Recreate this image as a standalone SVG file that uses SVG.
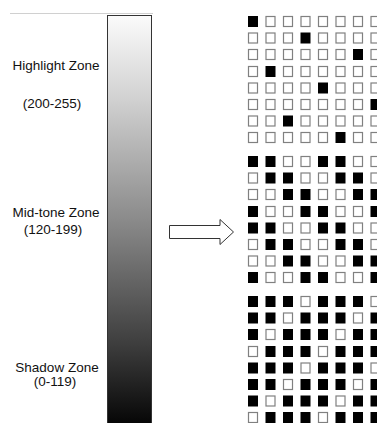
<svg xmlns="http://www.w3.org/2000/svg" width="377" height="423" viewBox="0 0 377 423">
<defs>
<linearGradient id="g" x1="0" y1="0" x2="0" y2="1">
<stop offset="0" stop-color="#fbfbfb"/>
<stop offset="0.2" stop-color="#d2d2d2"/>
<stop offset="0.5" stop-color="#8a8a8a"/>
<stop offset="0.8" stop-color="#3e3e3e"/>
<stop offset="1" stop-color="#050505"/>
</linearGradient>
<rect id="w" x="0.5" y="0.5" width="9" height="10" fill="#fff" stroke="#808080" stroke-width="1.2"/>
<rect id="b" width="10" height="11" fill="#000"/>
</defs>
<style>
text{font-family:"Liberation Sans",Arial,sans-serif;font-size:13.5px;fill:#111;text-anchor:middle}
</style>
<rect width="377" height="423" fill="#fff"/>
<line x1="10" y1="13.5" x2="153" y2="13.5" stroke="#d0d0d0" stroke-width="1"/>
<g id="bar">
<rect x="107.5" y="15.5" width="44" height="410" fill="url(#g)" stroke="#333" stroke-width="1"/>
</g>
<g id="labels">
<text x="56" y="70">Highlight Zone</text>
<text x="52" y="108">(200-255)</text>
<text x="56" y="217">Mid-tone Zone</text>
<text x="53" y="234">(120-199)</text>
<text x="57" y="372">Shadow Zone</text>
<text x="55" y="386">(0-119)</text>
</g>
<g id="connectors">
<path d="M169.5,225.5 H220 V219.5 L233.5,232 L220,244.5 V238.5 H169.5 Z" fill="#fff" stroke="#333" stroke-width="1"/>
</g>
<g id="grid-highlight">
<g transform="translate(0,16)"><use href="#b" x="248"/><use href="#w" x="265.5"/><use href="#w" x="283"/><use href="#w" x="300.5"/><use href="#w" x="318"/><use href="#w" x="335.5"/><use href="#w" x="353"/><use href="#w" x="370.5"/></g>
<g transform="translate(0,32.5)"><use href="#w" x="248"/><use href="#w" x="265.5"/><use href="#w" x="283"/><use href="#b" x="300.5"/><use href="#w" x="318"/><use href="#w" x="335.5"/><use href="#w" x="353"/><use href="#w" x="370.5"/></g>
<g transform="translate(0,49)"><use href="#w" x="248"/><use href="#w" x="265.5"/><use href="#w" x="283"/><use href="#w" x="300.5"/><use href="#w" x="318"/><use href="#w" x="335.5"/><use href="#b" x="353"/><use href="#w" x="370.5"/></g>
<g transform="translate(0,66)"><use href="#w" x="248"/><use href="#b" x="265.5"/><use href="#w" x="283"/><use href="#w" x="300.5"/><use href="#w" x="318"/><use href="#w" x="335.5"/><use href="#w" x="353"/><use href="#w" x="370.5"/></g>
<g transform="translate(0,82.5)"><use href="#w" x="248"/><use href="#w" x="265.5"/><use href="#w" x="283"/><use href="#w" x="300.5"/><use href="#b" x="318"/><use href="#w" x="335.5"/><use href="#w" x="353"/><use href="#w" x="370.5"/></g>
<g transform="translate(0,99)"><use href="#w" x="248"/><use href="#w" x="265.5"/><use href="#w" x="283"/><use href="#w" x="300.5"/><use href="#w" x="318"/><use href="#w" x="335.5"/><use href="#w" x="353"/><use href="#b" x="370.5"/></g>
<g transform="translate(0,115.5)"><use href="#w" x="248"/><use href="#w" x="265.5"/><use href="#b" x="283"/><use href="#w" x="300.5"/><use href="#w" x="318"/><use href="#w" x="335.5"/><use href="#w" x="353"/><use href="#w" x="370.5"/></g>
<g transform="translate(0,132)"><use href="#w" x="248"/><use href="#w" x="265.5"/><use href="#w" x="283"/><use href="#w" x="300.5"/><use href="#w" x="318"/><use href="#b" x="335.5"/><use href="#w" x="353"/><use href="#w" x="370.5"/></g>
</g>
<g id="grid-midtone">
<g transform="translate(0,156)"><use href="#b" x="248"/><use href="#b" x="265.5"/><use href="#w" x="283"/><use href="#w" x="300.5"/><use href="#b" x="318"/><use href="#b" x="335.5"/><use href="#w" x="353"/><use href="#w" x="370.5"/></g>
<g transform="translate(0,172.5)"><use href="#w" x="248"/><use href="#b" x="265.5"/><use href="#b" x="283"/><use href="#w" x="300.5"/><use href="#w" x="318"/><use href="#b" x="335.5"/><use href="#b" x="353"/><use href="#w" x="370.5"/></g>
<g transform="translate(0,189)"><use href="#w" x="248"/><use href="#w" x="265.5"/><use href="#b" x="283"/><use href="#b" x="300.5"/><use href="#w" x="318"/><use href="#w" x="335.5"/><use href="#b" x="353"/><use href="#b" x="370.5"/></g>
<g transform="translate(0,206)"><use href="#b" x="248"/><use href="#w" x="265.5"/><use href="#w" x="283"/><use href="#b" x="300.5"/><use href="#b" x="318"/><use href="#w" x="335.5"/><use href="#w" x="353"/><use href="#b" x="370.5"/></g>
<g transform="translate(0,222.5)"><use href="#b" x="248"/><use href="#b" x="265.5"/><use href="#w" x="283"/><use href="#w" x="300.5"/><use href="#b" x="318"/><use href="#b" x="335.5"/><use href="#w" x="353"/><use href="#w" x="370.5"/></g>
<g transform="translate(0,239)"><use href="#w" x="248"/><use href="#b" x="265.5"/><use href="#b" x="283"/><use href="#w" x="300.5"/><use href="#w" x="318"/><use href="#b" x="335.5"/><use href="#b" x="353"/><use href="#w" x="370.5"/></g>
<g transform="translate(0,255.5)"><use href="#w" x="248"/><use href="#w" x="265.5"/><use href="#b" x="283"/><use href="#b" x="300.5"/><use href="#w" x="318"/><use href="#w" x="335.5"/><use href="#b" x="353"/><use href="#b" x="370.5"/></g>
<g transform="translate(0,272)"><use href="#b" x="248"/><use href="#w" x="265.5"/><use href="#w" x="283"/><use href="#b" x="300.5"/><use href="#b" x="318"/><use href="#w" x="335.5"/><use href="#w" x="353"/><use href="#b" x="370.5"/></g>
</g>
<g id="grid-shadow">
<g transform="translate(0,296)"><use href="#b" x="248"/><use href="#b" x="265.5"/><use href="#b" x="283"/><use href="#w" x="300.5"/><use href="#b" x="318"/><use href="#b" x="335.5"/><use href="#b" x="353"/><use href="#w" x="370.5"/></g>
<g transform="translate(0,312.5)"><use href="#b" x="248"/><use href="#b" x="265.5"/><use href="#w" x="283"/><use href="#b" x="300.5"/><use href="#b" x="318"/><use href="#b" x="335.5"/><use href="#w" x="353"/><use href="#b" x="370.5"/></g>
<g transform="translate(0,329)"><use href="#b" x="248"/><use href="#w" x="265.5"/><use href="#b" x="283"/><use href="#b" x="300.5"/><use href="#b" x="318"/><use href="#w" x="335.5"/><use href="#b" x="353"/><use href="#b" x="370.5"/></g>
<g transform="translate(0,346)"><use href="#w" x="248"/><use href="#b" x="265.5"/><use href="#b" x="283"/><use href="#b" x="300.5"/><use href="#w" x="318"/><use href="#b" x="335.5"/><use href="#b" x="353"/><use href="#b" x="370.5"/></g>
<g transform="translate(0,362.5)"><use href="#b" x="248"/><use href="#b" x="265.5"/><use href="#b" x="283"/><use href="#w" x="300.5"/><use href="#b" x="318"/><use href="#b" x="335.5"/><use href="#b" x="353"/><use href="#w" x="370.5"/></g>
<g transform="translate(0,379)"><use href="#b" x="248"/><use href="#b" x="265.5"/><use href="#w" x="283"/><use href="#b" x="300.5"/><use href="#b" x="318"/><use href="#b" x="335.5"/><use href="#w" x="353"/><use href="#b" x="370.5"/></g>
<g transform="translate(0,395.5)"><use href="#b" x="248"/><use href="#w" x="265.5"/><use href="#b" x="283"/><use href="#b" x="300.5"/><use href="#b" x="318"/><use href="#w" x="335.5"/><use href="#b" x="353"/><use href="#b" x="370.5"/></g>
<g transform="translate(0,412)"><use href="#w" x="248"/><use href="#b" x="265.5"/><use href="#b" x="283"/><use href="#b" x="300.5"/><use href="#w" x="318"/><use href="#b" x="335.5"/><use href="#b" x="353"/><use href="#b" x="370.5"/></g>
</g>
</svg>
